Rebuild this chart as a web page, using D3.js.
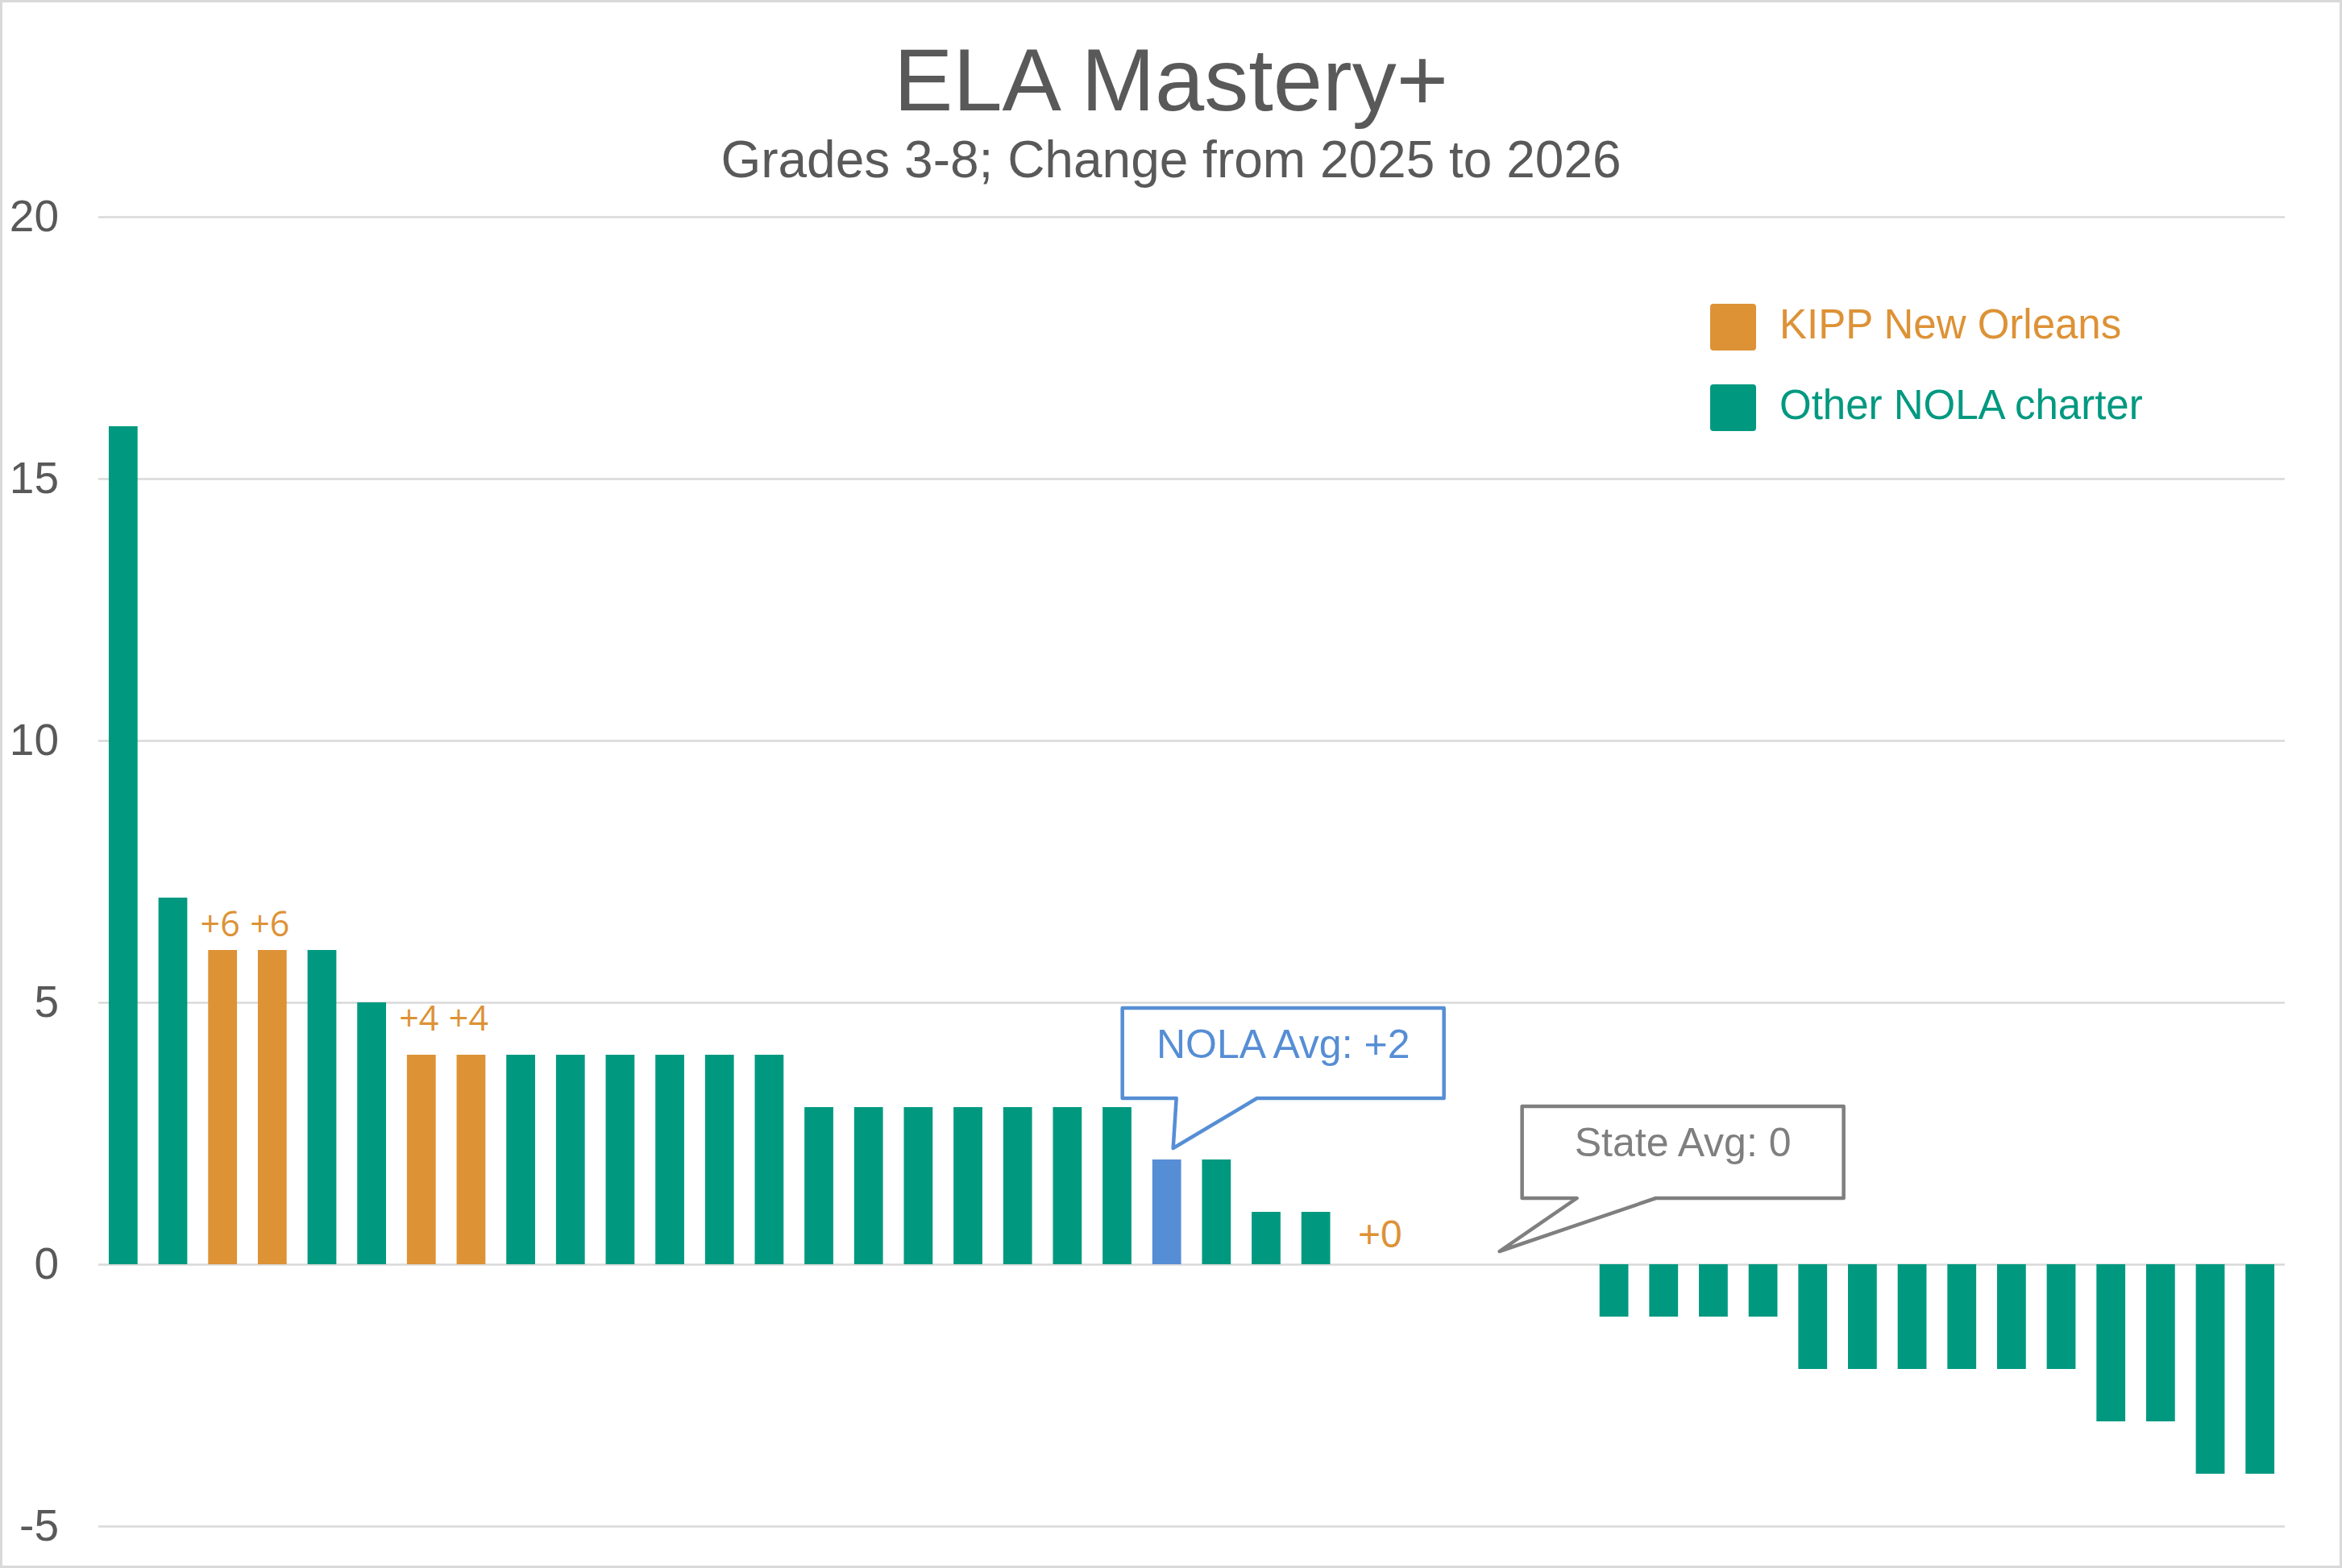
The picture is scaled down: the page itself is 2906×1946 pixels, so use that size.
<!DOCTYPE html>
<html>
<head>
<meta charset="utf-8">
<script src="https://cdn.jsdelivr.net/npm/d3@7"></script>
<style>
  body { margin: 0; background: #fff; }
  svg { display: block; font-family: "Liberation Sans", Arial, sans-serif; }
</style>
</head>
<body>
<svg id="chart"></svg>
<script>
// change in ELA Mastery+ (pct points), one bar per school, sorted
const changes = [16, 7, 6, 6, 6, 5, 4, 4, 4, 4, 4, 4, 4, 4, 3, 3, 3, 3, 3, 3, 3, 2, 2, 1, 1,
  0, 0, 0, 0, 0, -1, -1, -1, -1, -2, -2, -2, -2, -2, -2, -3, -3, -4, -4];
// K = KIPP New Orleans, O = other NOLA charter, A = NOLA average
const groups = ["O", "O", "K", "K", "O", "O", "K", "K", "O", "O", "O", "O", "O", "O",
  "O", "O", "O", "O", "O", "O", "O", "A", "O", "O", "O",
  "K", "O", "O", "O", "O", "O", "O", "O", "O", "O", "O", "O", "O", "O", "O", "O", "O", "O", "O"];
const schools = changes.map((d, i) => "School " + (i + 1));
const yTicks = [-5, 0, 5, 10, 15, 20];
const legendItems = ["KIPP New Orleans", "Other NOLA charter"];
const nolaAvg = 2;
const stateAvg = 0;

const data = changes.map((v, i) => ({ school: schools[i], value: v, group: groups[i] }));

const width = 2906;
const height = 1946;
const margin = { top: 269, right: 71, bottom: 52, left: 122 };

const colors = { K: "#DD9236", O: "#009980", A: "#568ED5" };
const textGrey = "#595959";

const svg = d3.select("#chart")
  .attr("width", width)
  .attr("height", height);

svg.append("rect")
  .attr("x", 1.5).attr("y", 1.5)
  .attr("width", width - 3).attr("height", height - 3)
  .attr("fill", "#fff")
  .attr("stroke", "#D9D9D9")
  .attr("stroke-width", 3);

const x = d3.scaleBand()
  .domain(schools)
  .range([margin.left, width - margin.right])
  .paddingInner(0.42)
  .paddingOuter(0.21);

const y = d3.scaleLinear()
  .domain([-5, 20])
  .range([height - margin.bottom, margin.top]);

// gridlines + tick labels
const yAxis = (g) => g
  .attr("transform", `translate(${margin.left},0)`)
  .call(d3.axisLeft(y)
    .tickValues(yTicks)
    .tickFormat((d) => String(d))
    .tickSize(-(width - margin.left - margin.right))
    .tickPadding(49))
  .call((g) => g.select(".domain").remove())
  .call((g) => g.selectAll(".tick line").attr("stroke", "#D9D9D9").attr("stroke-width", 2.5))
  .call((g) => g.selectAll(".tick text")
    .attr("fill", textGrey)
    .attr("font-size", 55)
    .attr("font-family", "Liberation Sans, Arial, sans-serif"));

svg.append("g").call(yAxis);

// bars
svg.append("g")
  .selectAll("rect")
  .data(data)
  .join("rect")
  .attr("x", (d) => x(d.school))
  .attr("width", x.bandwidth())
  .attr("y", (d) => y(Math.max(0, d.value)))
  .attr("height", (d) => Math.abs(y(d.value) - y(0)))
  .attr("fill", (d) => colors[d.group]);

// labels on KIPP bars
const fmt = d3.format("+");
svg.append("g")
  .selectAll("text")
  .data(data.filter((d) => d.group === "K"))
  .join("text")
  .attr("x", (d) => x(d.school) + x.bandwidth() / 2 + (d.value === 0 ? 18 : -3))
  .attr("y", (d) => y(d.value) - (d.value === 0 ? 21 : d.value === 4 ? 30 : 17))
  .attr("text-anchor", "middle")
  .attr("fill", colors.K)
  .attr("font-family", (d) => d.value === 0 ? "Liberation Sans, Arial, sans-serif" : "Open Sans, sans-serif")
  .attr("font-size", (d) => d.value === 0 ? 48 : 43)
  .text((d) => fmt(d.value));

// titles
svg.append("text")
  .attr("x", width / 2).attr("y", 137)
  .attr("text-anchor", "middle")
  .attr("fill", textGrey)
  .attr("font-size", 110)
  .text("ELA Mastery+");

svg.append("text")
  .attr("x", width / 2).attr("y", 220)
  .attr("text-anchor", "middle")
  .attr("fill", textGrey)
  .attr("font-size", 64)
  .text("Grades 3-8; Change from 2025 to 2026");

// legend
const legend = svg.append("g").attr("transform", "translate(2122,377)");
legend.selectAll("g")
  .data(legendItems)
  .join("g")
  .attr("transform", (d, i) => `translate(0,${i * 100})`)
  .each(function(d, i) {
    const c = i === 0 ? colors.K : colors.O;
    d3.select(this).append("rect")
      .attr("width", 57).attr("height", 58).attr("rx", 4)
      .attr("fill", c);
    d3.select(this).append("text")
      .attr("x", 86).attr("y", 43)
      .attr("fill", c)
      .attr("font-size", 51)
      .text(d);
  });

// callouts
const bandCenter = (i) => x(schools[i]) + x.bandwidth() / 2;
const nolaIdx = groups.indexOf("A");
const callouts = [
  {
    text: "NOLA Avg: " + fmt(nolaAvg), color: "#568ED5", textColor: "#568ED5",
    tip: [bandCenter(nolaIdx) + 8, y(nolaAvg) - 14],
    box: [-63, 336, -174, -62], base: [4, 104]
  },
  {
    text: "State Avg: " + stateAvg, color: "#7F7F7F", textColor: "#7F7F7F",
    tip: [bandCenter(27) + 43, y(stateAvg) - 16],
    box: [28, 427, -180, -66], base: [96, 194]
  }
];

const calloutG = svg.append("g")
  .selectAll("g")
  .data(callouts)
  .join("g")
  .attr("transform", (d) => `translate(${d.tip[0]},${d.tip[1]})`);

calloutG.append("path")
  .attr("d", (d) => {
    const [l, r, t, b] = d.box;
    return `M${l},${t}H${r}V${b}H${d.base[1]}L0,0L${d.base[0]},${b}H${l}Z`;
  })
  .attr("fill", "#fff")
  .attr("stroke", (d) => d.color)
  .attr("stroke-width", 4.5)
  .attr("stroke-linejoin", "round");

calloutG.append("text")
  .attr("x", (d) => (d.box[0] + d.box[1]) / 2)
  .attr("y", (d) => d.box[2] + 62)
  .attr("text-anchor", "middle")
  .attr("fill", (d) => d.textColor)
  .attr("font-size", 50)
  .text((d) => d.text);
</script>
</body>
</html>
